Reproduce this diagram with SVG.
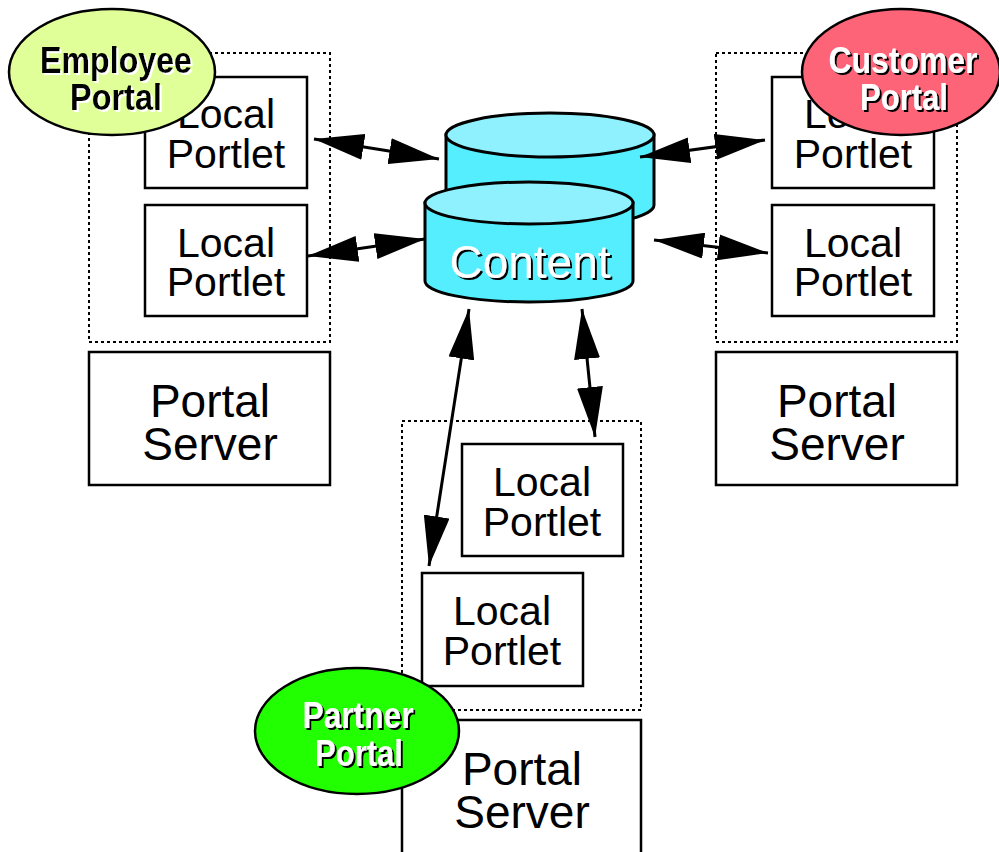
<svg xmlns="http://www.w3.org/2000/svg" width="999" height="852" viewBox="0 0 999 852">
<defs>
<style>
.box{fill:#fff;stroke:#000;stroke-width:2.5}
.dot{fill:none;stroke:#000;stroke-width:2;stroke-dasharray:3,3}
.t{font-family:"Liberation Sans",Arial,sans-serif;font-size:41px;text-anchor:middle;fill:#000}
.ts{font-family:"Liberation Sans",Arial,sans-serif;font-size:46px;text-anchor:middle;fill:#000}
.pl{font-family:"Liberation Sans",Arial,sans-serif;font-weight:bold;font-size:36px;text-anchor:middle}
.wsh{fill:#fff;filter:url(#blackShadow)}
.bsh{fill:#000;filter:url(#whiteShadow)}
.conn{stroke:#000;stroke-width:3;fill:none;marker-start:url(#ah);marker-end:url(#ah)}
.cylb{fill:#55eefe;stroke:#000;stroke-width:3}
.cylt{fill:#8ff0fe;stroke:#000;stroke-width:3}
</style>
<filter id="blackShadow" x="-10%" y="-10%" width="130%" height="130%">
<feOffset in="SourceAlpha" dx="2" dy="2" result="o"/>
<feMerge><feMergeNode in="o"/><feMergeNode in="SourceGraphic"/></feMerge>
</filter>
<filter id="whiteShadow" x="-10%" y="-10%" width="130%" height="130%">
<feFlood flood-color="#fff" result="f"/>
<feComposite in="f" in2="SourceAlpha" operator="in" result="w"/>
<feOffset in="w" dx="2" dy="2" result="o"/>
<feMerge><feMergeNode in="o"/><feMergeNode in="SourceGraphic"/></feMerge>
</filter>
<marker id="ah" markerUnits="userSpaceOnUse" viewBox="0 0 50 26" refX="50" refY="13" markerWidth="50" markerHeight="26" orient="auto-start-reverse">
<path d="M0,0 L50,13 L0,26 Z" fill="#000"/>
</marker>
</defs>
<g id="employee">
<rect class="dot" x="89" y="53" width="241" height="289"/>
<g id="emp-portlet1"><rect class="box" x="145" y="77" width="162" height="111"/><text class="t" x="226" y="128">Local</text><text class="t" x="226" y="168">Portlet</text></g>
<g id="emp-portlet2"><rect class="box" x="145" y="205" width="162" height="111"/><text class="t" x="226" y="257">Local</text><text class="t" x="226" y="296">Portlet</text></g>
<g id="emp-server"><rect class="box" x="89" y="352" width="241" height="133"/><text class="ts" x="210" y="417">Portal</text><text class="ts" x="210" y="460">Server</text></g>
<g id="emp-label"><ellipse cx="112" cy="72" rx="103" ry="63" fill="#e0ff99" stroke="#000" stroke-width="2.5"/>
<text class="pl bsh" x="116" y="73" textLength="152" lengthAdjust="spacingAndGlyphs">Employee</text>
<text class="pl bsh" x="116" y="110" textLength="92" lengthAdjust="spacingAndGlyphs">Portal</text></g>
</g>
<g id="customer">
<rect class="dot" x="716" y="53" width="241" height="289"/>
<g id="cus-portlet1"><rect class="box" x="772" y="77" width="162" height="111"/><text class="t" x="853" y="128">Local</text><text class="t" x="853" y="168">Portlet</text></g>
<g id="cus-portlet2"><rect class="box" x="772" y="205" width="162" height="111"/><text class="t" x="853" y="257">Local</text><text class="t" x="853" y="296">Portlet</text></g>
<g id="cus-server"><rect class="box" x="716" y="352" width="241" height="133"/><text class="ts" x="837" y="417">Portal</text><text class="ts" x="837" y="460">Server</text></g>
<g id="cus-label"><ellipse cx="901" cy="72" rx="99" ry="63" fill="#fe6478" stroke="#000" stroke-width="2.5"/>
<text class="pl wsh" x="903" y="73" textLength="149" lengthAdjust="spacingAndGlyphs">Customer</text>
<text class="pl wsh" x="904" y="110" textLength="88" lengthAdjust="spacingAndGlyphs">Portal</text></g>
</g>
<g id="partner">
<rect class="dot" x="402" y="421" width="239" height="289"/>
<g id="par-portlet1"><rect class="box" x="462" y="444" width="161" height="112"/><text class="t" x="542" y="496">Local</text><text class="t" x="542" y="536">Portlet</text></g>
<g id="par-portlet2"><rect class="box" x="422" y="573" width="161" height="113"/><text class="t" x="502" y="625">Local</text><text class="t" x="502" y="665">Portlet</text></g>
<g id="par-server"><rect class="box" x="402" y="720" width="239" height="140"/><text class="ts" x="522" y="785">Portal</text><text class="ts" x="522" y="828">Server</text></g>
<g id="par-label"><ellipse cx="357" cy="731" rx="102" ry="63" fill="#22ff00" stroke="#000" stroke-width="2.5"/>
<text class="pl wsh" x="358" y="728" textLength="111" lengthAdjust="spacingAndGlyphs">Partner</text>
<text class="pl wsh" x="359" y="766" textLength="88" lengthAdjust="spacingAndGlyphs">Portal</text></g>
</g>
<g id="content">
<path class="cylb" d="M446,135 L446,205 A104,22 0 0 0 654,205 L654,135 Z"/>
<ellipse class="cylt" cx="550" cy="135" rx="104" ry="22"/>
<path class="cylb" d="M425,203 L425,281 A104,21 0 0 0 633,281 L633,203 Z"/>
<ellipse class="cylt" cx="529" cy="203" rx="104" ry="21"/>
<text class="wsh" x="530" y="278" font-family="'Liberation Sans',Arial,sans-serif" font-size="46" text-anchor="middle">Content</text>
</g>
<g id="connectors">
<line class="conn" x1="314" y1="139" x2="439" y2="159"/>
<line class="conn" x1="308" y1="256" x2="425" y2="239"/>
<line class="conn" x1="640" y1="157" x2="765" y2="140"/>
<line class="conn" x1="654" y1="240" x2="768" y2="253"/>
<line class="conn" x1="469" y1="309" x2="429" y2="566"/>
<line class="conn" x1="582" y1="309" x2="595" y2="437"/>
</g>
</svg>
